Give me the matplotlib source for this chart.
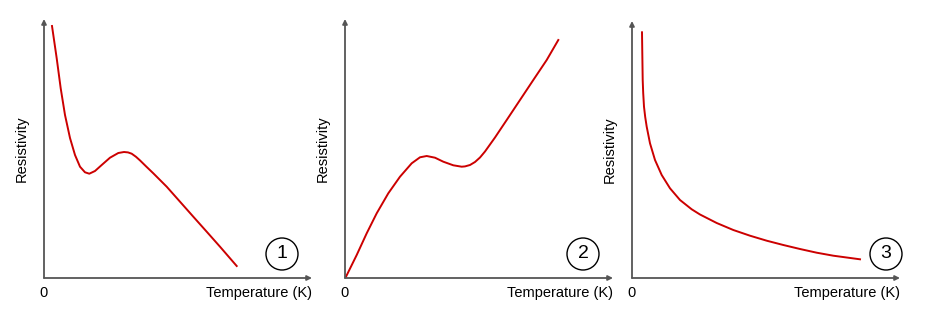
import matplotlib.pyplot as plt
from matplotlib.patches import Circle

plt.rcParams['font.family'] = ['Liberation Sans', 'DejaVu Sans']

# curve readings (pixel offsets from each panel's origin)
x1 = [8, 12.7, 16.7, 21, 26, 31, 36, 41, 45.3, 51, 57.7, 66, 74.3, 80, 84, 87.7, 92, 96,
      102, 109.3, 122.7, 136, 149.3, 162.7, 176, 192.7]
y1 = [252, 219.7, 189.7, 163, 140, 123, 111.3, 105.7, 104.3, 107, 113, 120.3, 125, 126, 125.6, 124.3, 121.2, 117.6,
      111.7, 104.7, 91.3, 76.3, 61.3, 46.3, 31.3, 12]

x2 = [1, 11.7, 21.7, 31.7, 43.3, 55, 66.7, 75, 81.7, 90, 98.3, 108.3, 116.7, 120, 125, 130, 135,
      140, 145, 150, 155, 161.7, 175, 188.3, 201.7, 213.3]
y2 = [1.3, 23, 44.7, 64.7, 84.7, 101.3, 114.7, 120.7, 122, 120.3, 116.3, 112.7, 111.3, 111.6, 113, 116, 120.5,
      126.5, 133.5, 140.5, 148, 158, 178, 198, 218, 238]

x3 = [10, 10.3, 10.7, 11.2, 12, 13.2, 14.7, 18, 23, 29.7, 38, 48, 59.7, 68, 84.7, 101.3,
      118, 134.7, 151.3, 168, 184.7, 201.3, 228]
y3 = [245.7, 224.7, 198, 185, 171.3, 161, 151.3, 134.7, 118, 103, 89.7, 78, 68.7, 63.5, 55, 48,
      42.3, 37.3, 33, 29, 25.3, 22.3, 18.7]

panels = [
    # left, right, top, bottom (px), data, label, circle centre x
    (44, 312, 19, 278, x1, y1, "1", 282),
    (345, 613, 19, 278, x2, y2, "2", 583),
    (632, 900, 21, 278, x3, y3, "3", 886),
]

W, H = 937, 326
fig = plt.figure(figsize=(W / 100, H / 100), dpi=100)

for left, right, top, bottom, xs, ys, num, cx in panels:
    w, h = right - left, bottom - top
    ax = fig.add_axes([left / W, (H - bottom) / H, w / W, h / H])
    ax.set_xlim(0, w)
    ax.set_ylim(0, h)
    ax.axis('off')
    ax.plot(xs, ys, color='#cc0000', lw=1.4, solid_joinstyle='round', clip_on=False)
    arrow = dict(arrowstyle='-|>', color='#555555', lw=1.3, mutation_scale=7,
                 shrinkA=0, shrinkB=0)
    ax.annotate('', xy=(w, 0), xytext=(0, 0), arrowprops=arrow, annotation_clip=False)
    ax.annotate('', xy=(0, h), xytext=(0, 0), arrowprops=arrow, annotation_clip=False)
    ax.text(0, -8, '0', ha='center', va='top', fontsize=10.5)
    ax.text(w, -8, 'Temperature (K)', ha='right', va='top', fontsize=10.5)
    ax.text(-22, h * 0.5, 'Resistivity', rotation=90, ha='center', va='center', fontsize=10.5)
    c = Circle((cx - left, bottom - 254), 16, fill=False, ec='black', lw=1.0, clip_on=False)
    ax.add_patch(c)
    ax.text(cx - left, bottom - 254, num, ha='center', va='center', fontsize=14)

fig.savefig('out.png', dpi=100)
